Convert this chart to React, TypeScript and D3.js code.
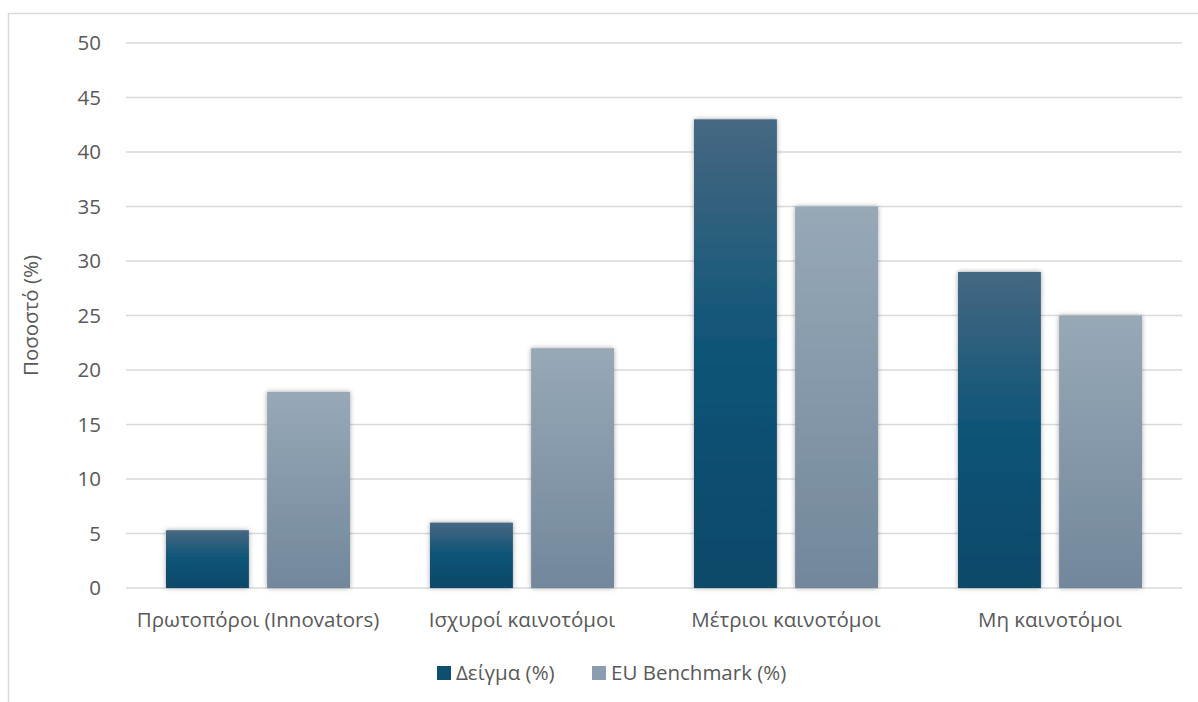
import React from 'react';
import * as d3 from 'd3';

const categories = ['Πρωτοπόροι (Innovators)', 'Ισχυροί καινοτόμοι', 'Μέτριοι καινοτόμοι', 'Μη καινοτόμοι'];
const seriesNames = ['Δείγμα (%)', 'EU Benchmark (%)'];
const sampleValues = [5.3, 6, 43, 29];
const euValues = [18, 22, 35, 25];
const yTicks = [0, 5, 10, 15, 20, 25, 30, 35, 40, 45, 50];

const W = 1198;
const H = 702;
const M = { left: 126, right: 1182, top: 43, bottom: 588 };
const FONT = '"Open Sans", "Noto Sans", sans-serif';
const TEXT = '#595959';
const FS = 20.5;

const App: React.FC = () => {
  const x0 = d3.scaleBand<string>().domain(categories).range([M.left, M.right]).paddingInner(0).paddingOuter(0);
  const x1 = d3.scaleBand<number>().domain([0, 1]).range([40, x0.bandwidth() - 40]).paddingInner(0.18);
  const y = d3.scaleLinear().domain([0, 50]).range([M.bottom, M.top]);

  const series = [sampleValues, euValues];
  const fills = ['url(#gradDark)', 'url(#gradLight)'];
  const legendColors = ['#0e4f70', '#8a9eb0'];
  const legendX = [437, 592];

  return (
    <div style={{ position: 'absolute', left: 0, top: 0 }}>
      <svg width={W} height={H} style={{ display: 'block', fontFamily: FONT }}>
        <defs>
          <linearGradient id="gradDark" x1="0" y1="0" x2="0" y2="1">
            <stop offset="0%" stopColor="#466882" />
            <stop offset="50%" stopColor="#0e5477" />
            <stop offset="100%" stopColor="#0a4868" />
          </linearGradient>
          <linearGradient id="gradLight" x1="0" y1="0" x2="0" y2="1">
            <stop offset="0%" stopColor="#97a9b7" />
            <stop offset="100%" stopColor="#72879c" />
          </linearGradient>
          <filter id="shadow" x="-20%" y="-10%" width="140%" height="120%">
            <feDropShadow dx="0" dy="0" stdDeviation="2.5" floodColor="#000" floodOpacity="0.35" />
          </filter>
        </defs>

        {/* outer frame */}
        <rect x={8.5} y={13.5} width={W + 10} height={H + 10} fill="#fff" stroke="#d9d9d9" strokeWidth={1.5} />

        {/* gridlines */}
        {yTicks.map(t => (
          <line key={t} x1={M.left} x2={M.right} y1={y(t)} y2={y(t)} stroke="#d9d9d9" strokeWidth={1.5} />
        ))}

        {/* y tick labels */}
        {yTicks.map(t => (
          <text key={'l' + t} x={101} y={y(t)} dy="0.35em" textAnchor="end" fontSize={FS} fill={TEXT}>
            {t}
          </text>
        ))}

        {/* y axis title */}
        <text
          transform={`translate(38,${(M.top + M.bottom) / 2}) rotate(-90)`}
          textAnchor="middle"
          fontSize={FS}
          fill={TEXT}
        >
          Ποσοστό (%)
        </text>

        {/* bars */}
        {categories.map((c, i) => (
          <g key={c} transform={`translate(${x0(c)},0)`}>
            {series.map((vals, s) => (
              <rect
                key={s}
                x={x1(s)}
                y={y(vals[i])}
                width={x1.bandwidth()}
                height={y(0) - y(vals[i])}
                fill={fills[s]}
                filter="url(#shadow)"
              />
            ))}
          </g>
        ))}

        {/* category labels */}
        {categories.map(c => (
          <text
            key={'c' + c}
            x={(x0(c) ?? 0) + x0.bandwidth() / 2}
            y={620}
            dy="0.35em"
            textAnchor="middle"
            fontSize={FS}
            fill={TEXT}
          >
            {c}
          </text>
        ))}

        {/* legend */}
        {seriesNames.map((n, s) => (
          <g key={n}>
            <rect x={legendX[s]} y={666} width={14} height={14} fill={legendColors[s]} />
            <text x={legendX[s] + 19} y={673} dy="0.35em" fontSize={FS} fill={TEXT}>
              {n}
            </text>
          </g>
        ))}
      </svg>
    </div>
  );
};

export default App;
